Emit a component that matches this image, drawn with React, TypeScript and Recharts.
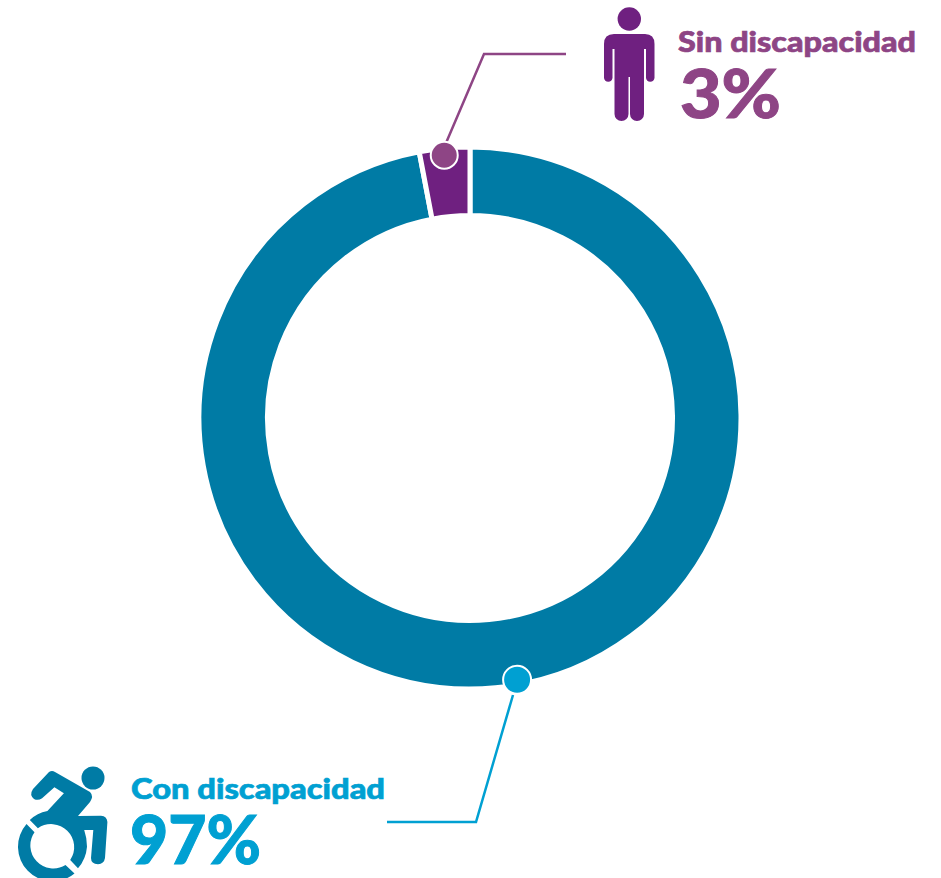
import { PieChart, Pie, Cell } from "recharts";

const categories = ["Con discapacidad", "Sin discapacidad"];
const values = [97, 3];
const sliceColors = ["#007BA5", "#6F2080"];
const textColors = ["#00A0D2", "#8E4585"];

const chartData = categories.map((name, i) => ({ name, value: values[i] }));

const FONT = "Lato, sans-serif";

// where each callout sits: dot shift along the ring, elbow line, text
const callouts = [
  {
    dotShift: 4.8,
    dotRadius: 266,
    dotSize: 14,
    line: "476,822 387,822",
    lineFrom: [513, 695],
    textX: 131,
    pctX: 130,
    nameY: 799,
    pctY: 864,
    nameWidth: 254,
    pctWidth: 131,
  },
  {
    dotShift: 0.2,
    dotRadius: 264,
    dotSize: 13.5,
    line: "484,54 566,54",
    lineFrom: [446, 143],
    textX: 678,
    pctX: 680,
    nameY: 52,
    pctY: 118,
    nameWidth: 238,
    pctWidth: 101,
  },
];

function PersonIcon() {
  return (
    <g fill="#6F2080">
      <circle cx={629.3} cy={19} r={11.7} />
      <path d="M614 34 H645 Q654.5 34 654.5 44 V78 A4.3 4.3 0 0 1 646 78 V49 H644 V114 A7 7 0 0 1 630 114 V77 H628.5 V114 A7 7 0 0 1 614.5 114 V49 H612.5 V78 A4.3 4.3 0 0 1 604 78 V44 Q604 34 614 34 Z" />
    </g>
  );
}

function WheelchairIcon() {
  return (
    <g fill="#007BA5">
      <circle cx={93} cy={778} r={11.5} />
      <path d="M49 772 Q52 770 55 772 L90 792 Q94 796 90 802 L78 816 L101 815.7 Q107 816 107.4 822 L105 858 Q104 864 98 864.3 Q91 864 91 858 L93.3 830 L84.2 830 Q87 838 87 846.7 Q86 859 78 868.3 L70.2 860 A23 23 0 0 0 37.9 828.3 L29.8 820 Q37 813 47.4 811 L63.9 793.3 L54.4 787.3 L42.1 798.3 Q38 801 34 799 Q29 795 33 789 Z" />
      <path d="M26.5 824 L34.5 832.3 A23 23 0 0 0 65.5 865 L74.5 873.5 A34.6 34.6 0 0 1 26.5 824 Z" />
    </g>
  );
}

function renderCallout(props: any) {
  const { cx, cy, midAngle, index } = props;
  const c = callouts[index];
  const color = textColors[index];
  const rad = ((midAngle + c.dotShift) * Math.PI) / 180;
  const dotX = cx + c.dotRadius * Math.cos(rad);
  const dotY = cy - c.dotRadius * Math.sin(rad);
  return (
    <g key={categories[index]}>
      <polyline
        points={`${c.lineFrom[0]},${c.lineFrom[1]} ${c.line}`}
        fill="none"
        stroke={color}
        strokeWidth={2.5}
      />
      <circle cx={dotX} cy={dotY} r={c.dotSize} fill={color} stroke="#fff" strokeWidth={2} />
      <text
        x={c.textX}
        y={c.nameY}
        fill={color}
        stroke={color}
        strokeWidth={0.7}
        fontFamily={FONT}
        fontWeight={900}
        fontSize={29}
        textLength={c.nameWidth}
        lengthAdjust="spacingAndGlyphs"
      >
        {categories[index]}
      </text>
      <text
        x={c.pctX}
        y={c.pctY}
        fill={color}
        stroke={color}
        strokeWidth={1}
        fontFamily={FONT}
        fontWeight={900}
        fontSize={66}
        textLength={c.pctWidth}
        lengthAdjust="spacingAndGlyphs"
      >
        {values[index]}%
      </text>
    </g>
  );
}

export default function App() {
  return (
    <div style={{ position: "absolute", left: 0, top: 0, width: 941, height: 878, background: "#fff" }}>
      <PieChart width={941} height={878} margin={{ top: 0, right: 0, bottom: 0, left: 0 }}>
        <Pie
          data={chartData}
          dataKey="value"
          nameKey="name"
          cx={470}
          cy={418}
          innerRadius={202.5}
          outerRadius={271}
          startAngle={90}
          endAngle={-270}
          stroke="#fff"
          strokeWidth={5}
          label={renderCallout}
          labelLine={false}
          isAnimationActive={false}
        >
          {chartData.map((d, i) => (
            <Cell key={d.name} fill={sliceColors[i]} />
          ))}
        </Pie>
        <PersonIcon />
        <WheelchairIcon />
      </PieChart>
    </div>
  );
}
